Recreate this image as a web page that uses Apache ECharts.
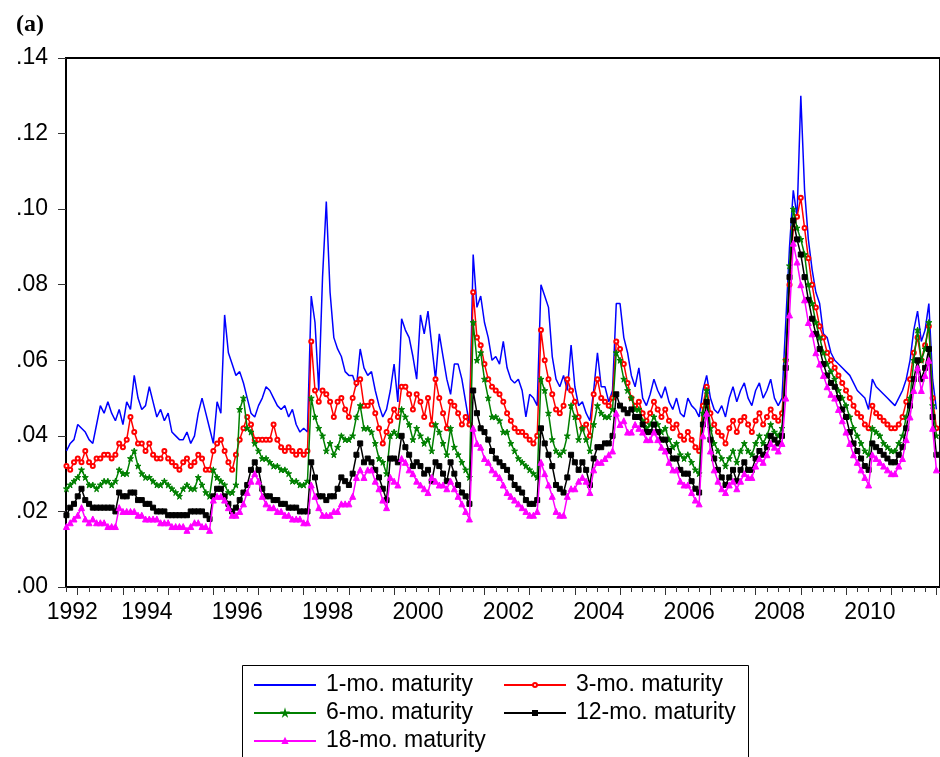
<!DOCTYPE html>
<html>
<head>
<meta charset="utf-8">
<script src="https://cdn.jsdelivr.net/npm/echarts@6/dist/echarts.min.js"></script>
<style>
html, body { margin: 0; padding: 0; background: #fff; }
#chart { width: 940px; height: 757px; }
</style>
</head>
<body>
<div id="chart"></div>
<script>
// Monthly observations, October 1992 to January 2012
const startYear = 1992.75;

const mat1 = [
  .036,.038,.039,.043,.042,.041,.039,.038,.043,.048,
  .046,.049,.046,.044,.047,.043,.049,.047,.056,.050,
  .047,.048,.053,.049,.045,.047,.044,.046,.041,.040,
  .039,.039,.041,.038,.040,.046,.050,.046,.042,.038,
  .049,.046,.072,.062,.059,.056,.057,.054,.050,.046,
  .045,.048,.050,.053,.052,.050,.048,.047,.048,.045,
  .047,.043,.041,.042,.041,.077,.070,.052,.082,.102,
  .078,.066,.063,.061,.057,.056,.056,.053,.063,.058,
  .056,.057,.052,.048,.045,.047,.052,.059,.049,.071,
  .068,.066,.061,.055,.072,.067,.073,.064,.055,.067,
  .061,.055,.051,.059,.059,.055,.049,.043,.088,.074,
  .077,.070,.066,.060,.061,.059,.065,.058,.055,.054,
  .055,.052,.045,.051,.050,.048,.080,.077,.074,.061,
  .055,.053,.056,.052,.064,.053,.048,.049,.046,.044,
  .052,.062,.053,.053,.049,.052,.075,.075,.066,.062,
  .056,.053,.058,.050,.048,.051,.055,.052,.050,.053,
  .049,.047,.050,.046,.045,.050,.048,.047,.045,.052,
  .056,.050,.047,.046,.048,.045,.050,.053,.049,.052,
  .054,.050,.048,.052,.054,.050,.052,.055,.050,.048,
  .050,.070,.090,.105,.098,.130,.105,.092,.084,.078,
  .075,.067,.066,.062,.060,.059,.058,.057,.056,.054,
  .052,.051,.050,.047,.055,.053,.052,.051,.050,.049,
  .048,.050,.052,.055,.060,.068,.073,.065,.068,.075,
  .055,.047
];

const mat3 = [
  .032,.031,.033,.034,.033,.036,.033,.032,.034,.034,
  .035,.035,.034,.035,.038,.037,.039,.045,.041,.038,
  .038,.036,.038,.035,.034,.034,.036,.034,.033,.032,
  .031,.033,.034,.032,.033,.035,.034,.031,.031,.036,
  .038,.039,.036,.033,.031,.035,.039,.042,.045,.043,
  .039,.039,.039,.039,.039,.043,.039,.037,.036,.037,
  .036,.035,.036,.035,.036,.065,.052,.049,.052,.051,
  .049,.045,.049,.050,.047,.045,.050,.054,.055,.048,
  .048,.049,.046,.042,.038,.041,.044,.047,.045,.053,
  .053,.051,.047,.051,.049,.045,.050,.043,.055,.050,
  .046,.042,.049,.048,.046,.043,.045,.043,.078,.066,
  .064,.059,.055,.053,.052,.051,.049,.046,.044,.042,
  .041,.041,.040,.039,.038,.040,.068,.060,.055,.051,
  .047,.046,.048,.055,.052,.049,.045,.042,.043,.040,
  .051,.055,.050,.049,.048,.050,.065,.063,.059,.054,
  .050,.048,.049,.046,.044,.046,.049,.047,.045,.047,
  .044,.042,.043,.040,.039,.041,.039,.037,.036,.048,
  .053,.046,.043,.041,.040,.038,.042,.044,.041,.044,
  .045,.043,.041,.044,.046,.043,.045,.047,.045,.044,
  .046,.060,.080,.095,.098,.103,.095,.087,.080,.074,
  .069,.066,.062,.060,.058,.056,.054,.052,.050,.048,
  .046,.045,.043,.042,.048,.046,.045,.044,.043,.042,
  .042,.043,.045,.049,.055,.062,.066,.060,.064,.069,
  .050,.042
];

const mat6 = [
  .026,.027,.028,.029,.031,.029,.027,.027,.026,.027,
  .028,.028,.027,.028,.031,.030,.030,.034,.036,.032,
  .030,.029,.029,.028,.027,.027,.028,.027,.026,.025,
  .024,.026,.027,.026,.026,.029,.027,.025,.024,.031,
  .029,.028,.027,.025,.025,.027,.047,.050,.042,.041,
  .038,.036,.034,.034,.033,.032,.032,.031,.031,.030,
  .028,.028,.027,.027,.028,.050,.045,.042,.040,.036,
  .038,.035,.037,.040,.039,.039,.040,.045,.048,.042,
  .042,.041,.038,.034,.033,.030,.040,.041,.040,.047,
  .045,.043,.039,.042,.040,.038,.039,.036,.043,.041,
  .038,.035,.042,.037,.035,.033,.031,.029,.070,.060,
  .062,.055,.050,.045,.045,.044,.041,.041,.038,.036,
  .034,.033,.032,.031,.030,.029,.055,.052,.046,.039,
  .036,.035,.036,.040,.048,.045,.039,.042,.039,.036,
  .043,.048,.046,.045,.045,.047,.062,.060,.055,.052,
  .050,.047,.047,.044,.042,.043,.045,.043,.041,.042,
  .039,.037,.038,.035,.034,.035,.033,.031,.030,.046,
  .052,.042,.038,.036,.034,.032,.034,.036,.033,.036,
  .038,.036,.035,.038,.040,.038,.040,.043,.041,.040,
  .042,.060,.085,.100,.095,.092,.088,.080,.075,.070,
  .066,.062,.059,.057,.055,.052,.050,.048,.045,.042,
  .040,.038,.036,.035,.042,.041,.040,.038,.037,.036,
  .036,.038,.040,.045,.050,.060,.068,.060,.063,.070,
  .048,.040
];

const mat12 = [
  .019,.021,.022,.024,.026,.023,.022,.021,.021,.021,
  .021,.021,.021,.020,.025,.024,.024,.025,.025,.023,
  .023,.022,.022,.021,.020,.020,.020,.019,.019,.019,
  .019,.019,.019,.020,.020,.020,.020,.019,.018,.024,
  .026,.026,.024,.022,.020,.021,.023,.025,.027,.031,
  .033,.031,.026,.024,.024,.023,.023,.022,.022,.021,
  .021,.021,.020,.020,.020,.033,.029,.024,.024,.023,
  .024,.024,.026,.029,.028,.027,.030,.035,.038,.033,
  .034,.033,.031,.029,.026,.023,.034,.034,.033,.040,
  .037,.035,.032,.033,.032,.030,.031,.028,.033,.032,
  .030,.028,.033,.030,.027,.025,.024,.022,.052,.046,
  .042,.041,.039,.036,.034,.033,.032,.031,.029,.027,
  .026,.025,.023,.022,.022,.023,.042,.038,.035,.032,
  .027,.026,.025,.029,.035,.033,.031,.033,.031,.027,
  .034,.037,.037,.038,.038,.040,.051,.048,.047,.046,
  .047,.045,.045,.043,.041,.041,.043,.041,.039,.039,
  .036,.034,.034,.031,.030,.030,.028,.026,.025,.043,
  .049,.039,.034,.031,.029,.027,.029,.031,.028,.031,
  .033,.031,.031,.034,.036,.035,.037,.040,.039,.038,
  .040,.058,.082,.097,.092,.088,.082,.076,.071,.067,
  .063,.059,.056,.054,.053,.050,.047,.045,.041,.038,
  .036,.034,.032,.031,.038,.037,.036,.035,.034,.033,
  .033,.035,.037,.042,.048,.055,.060,.055,.058,.063,
  .045,.035
];

const mat18 = [
  .016,.017,.018,.019,.021,.018,.017,.018,.017,.017,
  .017,.016,.016,.016,.021,.020,.020,.020,.020,.019,
  .019,.018,.018,.018,.018,.017,.017,.017,.016,.016,
  .016,.016,.015,.016,.017,.017,.016,.016,.015,.023,
  .024,.024,.023,.021,.019,.019,.020,.022,.025,.028,
  .030,.028,.024,.022,.021,.021,.020,.020,.019,.019,
  .018,.018,.018,.017,.017,.027,.024,.021,.019,.019,
  .019,.020,.020,.022,.022,.022,.024,.029,.031,.029,
  .031,.031,.028,.026,.023,.021,.029,.028,.027,.034,
  .033,.031,.030,.028,.027,.026,.025,.029,.028,.027,
  .027,.026,.028,.026,.024,.022,.020,.018,.042,.038,
  .037,.034,.033,.031,.030,.029,.027,.025,.024,.023,
  .022,.021,.020,.019,.019,.020,.033,.030,.027,.024,
  .020,.019,.019,.024,.026,.026,.028,.029,.028,.025,
  .031,.033,.033,.034,.035,.036,.046,.043,.044,.041,
  .041,.043,.042,.041,.039,.039,.041,.039,.037,.036,
  .033,.031,.031,.028,.027,.027,.025,.023,.022,.040,
  .046,.036,.031,.028,.026,.025,.027,.028,.026,.028,
  .030,.029,.029,.032,.034,.033,.035,.038,.037,.036,
  .038,.050,.072,.091,.086,.080,.076,.070,.067,.062,
  .059,.056,.053,.051,.050,.047,.044,.041,.038,.035,
  .033,.031,.029,.027,.035,.034,.033,.032,.031,.030,
  .030,.032,.034,.039,.045,.052,.058,.052,.056,.060,
  .042,.031
];

const seriesNames = ['1-mo. maturity', '3-mo. maturity', '6-mo. maturity', '12-mo. maturity', '18-mo. maturity'];
const seriesValues = [mat1, mat3, mat6, mat12, mat18];

// Axis ticks and labels
const yearTicks = [1993, 1994, 1995, 1996, 1997, 1998, 1999, 2000, 2001, 2002,
  2003, 2004, 2005, 2006, 2007, 2008, 2009, 2010, 2011, 2012];
const yearLabels = ['1992', '1994', '1996', '1998', '2000', '2002', '2004', '2006', '2008', '2010'];
const yearLabelAt = [1992.88, 1994.53, 1996.53, 1998.53, 2000.53, 2002.53, 2004.53, 2006.53, 2008.53, 2010.53];

const xMin = 1992.74, xMax = 2012.08;

const quarterTicks = [];
for (let y = 1992; y <= 2012; y++) {
  [0.25, 0.5, 0.75].forEach(q => {
    const v = y + q;
    if (v > xMin && v < xMax) quarterTicks.push(v);
  });
}

const months = seriesValues[0].map((_, i) => +(startYear + i / 12).toFixed(4));
const pairs = vals => vals.map((v, i) => [months[i], v]);

const FONT = '"Liberation Sans", Arial, Helvetica, sans-serif';

const starPath = 'path://M5,0 L6,3.6 L10,3.6 L6.8,5.9 L8.1,10 L5,7.4 L1.9,10 L3.2,5.9 L0,3.6 L4,3.6 Z';

const styles = [
  { color: '#0000FF', symbol: 'none', symbolSize: 0 },
  { color: '#FF0000', symbol: 'emptyCircle', symbolSize: 4 },
  { color: '#008000', symbol: starPath, symbolSize: 6 },
  { color: '#000000', symbol: 'rect', symbolSize: 5 },
  { color: '#FF00FF', symbol: 'triangle', symbolSize: 6 }
];

// legend slots: [left, top] of each entry inside the key box
const legendSlots = [[253, 673], [503, 673], [253, 701], [503, 701], [253, 729]];

const legends = seriesNames.map((name, i) => ({
  show: true,
  orient: 'horizontal',
  left: legendSlots[i][0],
  top: legendSlots[i][1],
  padding: 0,
  data: [name],
  itemWidth: 62,
  itemHeight: 5,
  itemStyle: i === 0 ? { opacity: 0 } : {},
  selectedMode: false,
  textStyle: { fontFamily: FONT, fontSize: 23, color: '#000', lineHeight: 24, padding: [0, 0, 0, 5] }
}));

const chart = echarts.init(document.getElementById('chart'), null, { renderer: 'canvas' });

chart.setOption({
  animation: false,
  backgroundColor: '#fff',
  title: {
    text: '(a)',
    left: 11,
    top: 8,
    textStyle: { fontFamily: '"Liberation Serif", "Times New Roman", serif', fontWeight: 'bold', fontSize: 24, color: '#000' }
  },
  grid: {
    left: 66, right: -2, top: 58, bottom: 170,
    show: true, borderColor: '#000', borderWidth: 2, backgroundColor: 'transparent'
  },
  legend: legends,
  graphic: [{
    type: 'rect',
    shape: { x: 242.5, y: 665.5, width: 506, height: 110 },
    style: { fill: 'none', stroke: '#000', lineWidth: 1 }
  }],
  xAxis: [
    {
      type: 'value', min: xMin, max: xMax,
      splitLine: { show: false },
      axisLine: { show: true, onZero: false, lineStyle: { color: '#000', width: 2 } },
      axisTick: { show: true, customValues: yearTicks, length: 8, lineStyle: { color: '#333', width: 1 } },
      axisLabel: {
        show: true, customValues: yearLabelAt, margin: 14,
        fontFamily: FONT, fontSize: 23, color: '#000',
        formatter: v => {
          const i = yearLabelAt.findIndex(p => Math.abs(p - v) < 1e-6);
          return i >= 0 ? yearLabels[i] : '';
        }
      }
    },
    {
      type: 'value', min: xMin, max: xMax, position: 'bottom',
      splitLine: { show: false },
      axisLine: { show: false, onZero: false },
      axisTick: { show: true, customValues: quarterTicks, length: 5, lineStyle: { color: '#333', width: 1 } },
      axisLabel: { show: false }
    }
  ],
  yAxis: {
    type: 'value', min: 0, max: 0.14, interval: 0.02,
    splitLine: { show: false },
    axisLine: { show: true, lineStyle: { color: '#000', width: 2 } },
    axisTick: { show: true, length: 8, lineStyle: { color: '#333', width: 1 } },
    axisLabel: {
      margin: 18, fontFamily: FONT, fontSize: 23, color: '#000',
      formatter: v => v.toFixed(2).replace(/^0/, '')
    }
  },
  series: seriesValues.map((vals, i) => ({
    name: seriesNames[i],
    type: 'line',
    xAxisIndex: 0,
    data: pairs(vals),
    symbol: styles[i].symbol,
    symbolSize: styles[i].symbolSize,
    showSymbol: styles[i].symbol !== 'none',
    showAllSymbol: true,
    lineStyle: { color: styles[i].color, width: 1.5 },
    itemStyle: { color: styles[i].color, borderColor: styles[i].color, borderWidth: 1 },
    emphasis: { disabled: true },
    z: 2 + i
  }))
});
</script>
</body>
</html>
